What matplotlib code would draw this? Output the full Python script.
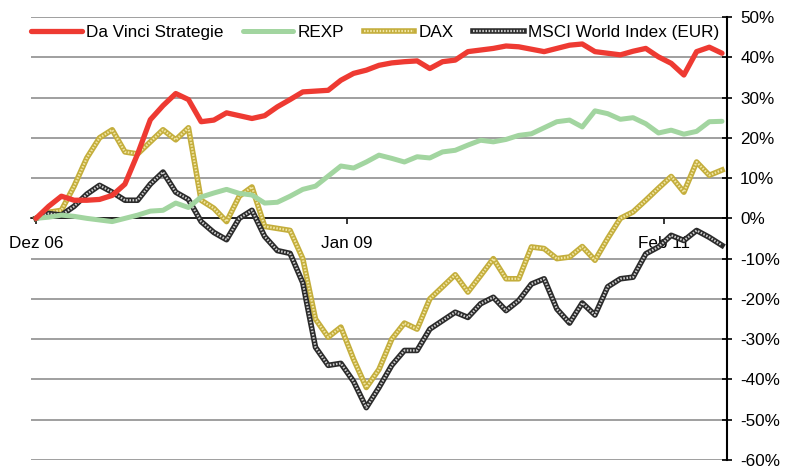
import matplotlib
matplotlib.use("Agg")
import matplotlib.pyplot as plt
import numpy as np

plt.rcParams["font.family"] = ["Liberation Sans", "DejaVu Sans"]

# monthly values, Dez 06 .. Jun 11 (performance in %)
davinci = [0, 3, 5.5, 4.5, 4.5, 4.7, 5.7, 8.5, 16, 24.5, 28, 31, 29.5, 24, 24.4,
           26.2, 25.5, 24.8, 25.5, 27.7, 29.5, 31.4, 31.6, 31.8, 34.3, 36, 36.8,
           38, 38.6, 38.9, 39.1, 37.2, 38.9, 39.3, 41.4, 41.8, 42.2, 42.8, 42.6,
           42, 41.4, 42.2, 43, 43.3, 41.4, 41, 40.6, 41.5, 42.2, 40.1, 38.5,
           35.6, 41.4, 42.5, 41]
rexp = [0, 0.3, 0.8, 0.5, 0, -0.4, -0.8, 0, 0.8, 1.8, 2, 3.8, 2.7, 5.3, 6.3,
        7.2, 6.2, 5.8, 3.8, 4, 5.5, 7.2, 8, 10.5, 13, 12.5, 14, 15.7, 14.9, 14,
        15.3, 15, 16.5, 16.9, 18.2, 19.4, 19, 19.6, 20.6, 21, 22.5, 24, 24.4,
        22.7, 26.7, 26, 24.6, 25, 23.5, 21.2, 21.9, 20.9, 21.6, 24, 24.1]
dax = [0, 1.5, 2, 8, 15, 20, 22, 16.5, 16, 19, 22, 19.5, 22.5, 4.5, 2.5, -0.8,
       5.5, 7.8, -2, -2.5, -3, -10, -25, -29.5, -27, -35, -42, -37.5, -30, -26,
       -27.5, -20, -17, -14, -18.3, -14.2, -10, -15, -15, -7.1, -7.5, -10,
       -9.6, -7, -10.4, -5, 0, 1.6, 4.5, 7.5, 10.4, 6.5, 14, 10.7, 12]
msci = [0, 1.2, 0.8, 3, 6, 8.2, 6.5, 4.5, 4.5, 8.5, 11.5, 6.5, 4.7, -0.8, -3.5,
        -5.3, 0, 2, -4.5, -8, -8.7, -16, -32, -36.5, -36, -40.5, -47, -42,
        -36.5, -32.8, -32.8, -27.5, -25.4, -23.3, -24.6, -21.2, -19.6, -22.9,
        -20.4, -16.3, -15, -22.5, -26, -21, -24, -17, -15, -14.6, -8.8, -7.1,
        -4.2, -5.5, -3, -4.7, -6.7]

tick_pos = [0, 24.5, 49.4]
tick_labels = ["Dez 06", "Jan 09", "Feb 11"]
series_names = ["Da Vinci Strategie", "REXP", "DAX", "MSCI World Index (EUR)"]

months = np.arange(len(davinci))

fig = plt.figure(figsize=(7.99, 4.70), dpi=100)
ax = fig.add_axes([31 / 799, 10 / 470, 696 / 799, 443 / 470])

l_red, = ax.plot(months, davinci, color="#ee3a32", lw=3.8, zorder=5,
                 solid_joinstyle="round", solid_capstyle="round")
l_green, = ax.plot(months, rexp, color="#a2d5a0", lw=3.6, zorder=4,
                   solid_joinstyle="round", solid_capstyle="round")
l_dax, = ax.plot(months, dax, color="#c4ae3c", lw=4.0, zorder=3)
l_dax2, = ax.plot(months, dax, color="#f1e6a6", lw=1.6, ls=(0, (0.7, 0.7)), zorder=3.1)
l_msci, = ax.plot(months, msci, color="#2b2b2b", lw=4.0, zorder=3.2)
l_msci2, = ax.plot(months, msci, color="#cfcfcf", lw=1.6, ls=(0, (0.7, 0.7)), zorder=3.3)

ax.set_xlim(-5 / 12.7, 54 + 5 / 12.7)
ax.set_ylim(-60, 50)
ax.set_yticks(range(-60, 51, 10))
ax.set_yticklabels([f"{v}%" for v in range(-60, 51, 10)])
ax.yaxis.tick_right()
ax.yaxis.grid(True, color="#8f8f8f", lw=1.2)
ax.set_axisbelow(True)

ax.set_xticks(tick_pos)
ax.set_xticklabels(tick_labels)

for s in ["left", "top"]:
    ax.spines[s].set_visible(False)
ax.spines["right"].set_color("black")
ax.spines["right"].set_linewidth(1.5)
ax.spines["bottom"].set_position(("data", 0))
ax.spines["bottom"].set_color("black")
ax.spines["bottom"].set_linewidth(1.1)

ax.tick_params(axis="y", direction="inout", length=7, width=1.2, pad=6,
               labelsize=12.3, colors="black")
ax.tick_params(axis="x", direction="out", length=4, width=1.1, pad=9,
               labelsize=12.3, colors="black")

leg = ax.legend([l_red, l_green, (l_dax, l_dax2), (l_msci, l_msci2)], series_names,
                loc="upper left", bbox_to_anchor=(-0.017, 1.008), ncol=4,
                frameon=False, handlelength=2.95, handletextpad=0.25,
                columnspacing=1.15, fontsize=12.3, borderaxespad=0.3)

fig.savefig("out.png", dpi=100)
